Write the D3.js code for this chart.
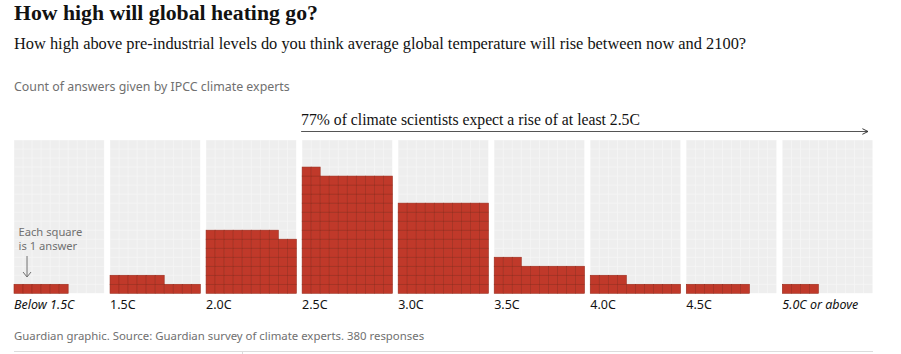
<!DOCTYPE html>
<html>
<head>
<meta charset="utf-8">
<script src="https://cdn.jsdelivr.net/npm/d3@7"></script>
<style>
  body { margin: 0; background: #fff; }
</style>
</head>
<body>
<svg id="main-svg"></svg>
<script>
const svg = d3.select("#main-svg");

// DATA
const categories = ["Below 1.5C", "1.5C", "2.0C", "2.5C", "3.0C", "3.5C", "4.0C", "4.5C", "5.0C or above"];
const answers = [6, 16, 68, 132, 100, 33, 14, 7, 4];
const italicLabels = ["Below 1.5C", "5.0C or above"];

// FIXED
WIDTH = 901
HEIGHT = 354
COLS = 10
ROWS = 17
GRID_TOP = 140
GRID_BOTTOM = 293.3
RED = "#c0392a"
SERIF = "'Liberation Serif', 'DejaVu Serif', serif"
SANS = "'Noto Sans', 'Open Sans', sans-serif"

svg.attr("width", WIDTH).attr("height", HEIGHT);

// scale a text's font size so it spans the width seen in the reference
const fitWidth = (sel, target) => {
  const w = sel.node().getComputedTextLength();
  const fs = +sel.attr("font-size");
  sel.attr("font-size", fs * target / w);
  return sel;
};

svg.append("defs").append("marker")
  .attr("id", "arrow-head")
  .attr("viewBox", "0 0 10 10")
  .attr("refX", 9).attr("refY", 5)
  .attr("markerWidth", 7).attr("markerHeight", 7)
  .attr("markerUnits", "userSpaceOnUse")
  .attr("orient", "auto")
  .append("path")
  .attr("d", "M1,1 L9,5 L1,9")
  .attr("fill", "none")
  .attr("stroke", "#333")
  .attr("stroke-width", 1.4);

// headings
fitWidth(svg.append("text")
  .attr("x", 14).attr("y", 20)
  .attr("font-family", SERIF)
  .attr("font-weight", "bold")
  .attr("font-size", 21)
  .attr("fill", "#121212")
  .text("How high will global heating go?"), 304);

fitWidth(svg.append("text")
  .attr("x", 14).attr("y", 49)
  .attr("font-family", SERIF)
  .attr("font-size", 15.5)
  .attr("fill", "#121212")
  .text("How high above pre-industrial levels do you think average global temperature will rise between now and 2100?"), 733);

fitWidth(svg.append("text")
  .attr("x", 14).attr("y", 91)
  .attr("font-family", SANS)
  .attr("font-size", 12.5)
  .attr("fill", "#707070")
  .text("Count of answers given by IPCC climate experts"), 276);

// scales
const x = d3.scaleBand()
  .domain(categories)
  .range([14, 872.6])
  .paddingInner(0.06);

const col = d3.scaleBand()
  .domain(d3.range(COLS))
  .range([0, x.bandwidth()]);

const row = d3.scaleBand()
  .domain(d3.range(ROWS))
  .range([GRID_BOTTOM, GRID_TOP]);

// panels
const panels = svg.selectAll("g.panel")
  .data(categories.map((c, i) => ({ category: c, count: answers[i] })))
  .enter()
  .append("g")
  .attr("class", "panel")
  .attr("transform", d => `translate(${x(d.category)} 0)`);

panels.append("rect")
  .attr("y", GRID_TOP)
  .attr("width", x.bandwidth())
  .attr("height", GRID_BOTTOM - GRID_TOP)
  .attr("fill", "#f6f6f6");

const allCells = d3.range(COLS * ROWS);

panels.selectAll("rect.empty")
  .data(allCells)
  .enter()
  .append("rect")
  .attr("class", "empty")
  .attr("x", i => col(i % COLS) + 0.35)
  .attr("y", i => row(Math.floor(i / COLS)) + 0.35)
  .attr("width", col.bandwidth() - 0.7)
  .attr("height", row.bandwidth() - 0.7)
  .attr("fill", "#eeeeee");

panels.selectAll("rect.filled")
  .data(d => d3.range(d.count))
  .enter()
  .append("rect")
  .attr("class", "filled")
  .attr("x", i => col(i % COLS))
  .attr("y", i => row(Math.floor(i / COLS)))
  .attr("width", col.bandwidth())
  .attr("height", row.bandwidth())
  .attr("fill", RED)
  .attr("stroke", "#9a2c1d")
  .attr("stroke-width", 0.6);

// category labels
panels.append("text")
  .attr("x", 0)
  .attr("y", 309)
  .attr("font-family", SANS)
  .attr("font-size", 12.5)
  .attr("font-style", d => italicLabels.includes(d.category) ? "italic" : "normal")
  .attr("fill", "#121212")
  .text(d => d.category);

// 77% annotation
const annX0 = x("2.5C");
fitWidth(svg.append("text")
  .attr("x", annX0 - 1)
  .attr("y", 125)
  .attr("font-family", SERIF)
  .attr("font-size", 14.5)
  .attr("fill", "#121212")
  .text("77% of climate scientists expect a rise of at least 2.5C"), 339);

svg.append("line")
  .attr("x1", annX0 - 1).attr("x2", 868)
  .attr("y1", 131.5).attr("y2", 131.5)
  .attr("stroke", "#555")
  .attr("stroke-width", 1.2)
  .attr("marker-end", "url(#arrow-head)");

// key
const keyText = svg.append("text")
  .attr("font-family", SANS)
  .attr("font-size", 11.2)
  .attr("fill", "#707070");
keyText.append("tspan").attr("x", 18.5).attr("y", 235.5).text("Each square");
keyText.append("tspan").attr("x", 18.5).attr("y", 249.5).text("is 1 answer");

const keyArrowX = x(categories[0]) + col(1) + 4;
svg.append("line")
  .attr("x1", keyArrowX).attr("x2", keyArrowX)
  .attr("y1", 256).attr("y2", 277)
  .attr("stroke", "#707070")
  .attr("stroke-width", 1);
svg.append("path")
  .attr("d", `M${keyArrowX - 4},${272} L${keyArrowX},${277} L${keyArrowX + 4},${272}`)
  .attr("fill", "none")
  .attr("stroke", "#707070")
  .attr("stroke-width", 1);

// footer
fitWidth(svg.append("text")
  .attr("x", 14).attr("y", 340)
  .attr("font-family", SANS)
  .attr("font-size", 11.5)
  .attr("fill", "#707070")
  .text("Guardian graphic. Source: Guardian survey of climate experts. 380 responses"), 411);

svg.append("line")
  .attr("x1", 14).attr("x2", 873)
  .attr("y1", 351.5).attr("y2", 351.5)
  .attr("stroke", "#dcdcdc")
  .attr("stroke-width", 1);
svg.append("line")
  .attr("x1", 242.5).attr("x2", 242.5)
  .attr("y1", 351.5).attr("y2", 354)
  .attr("stroke", "#dcdcdc")
  .attr("stroke-width", 1);
</script>
</body>
</html>
